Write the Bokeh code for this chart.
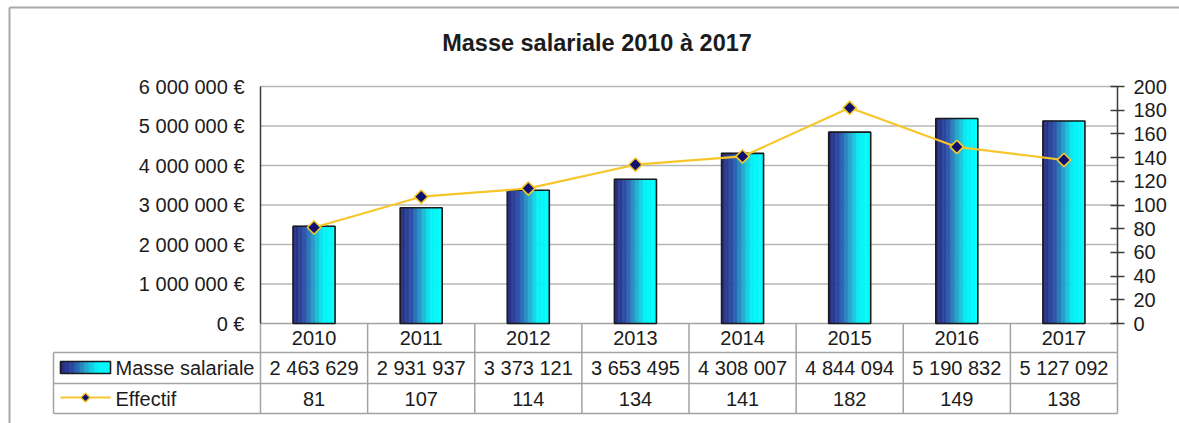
import math
from bokeh.plotting import figure
from bokeh.models import Range1d, LinearAxis, FixedTicker
from bokeh.core.properties import value
from bokeh.embed import file_html
from bokeh.resources import INLINE

# ---------------- data ----------------
years = ["2010", "2011", "2012", "2013", "2014", "2015", "2016", "2017"]
masse_salariale = [2463629, 2931937, 3373121, 3653495, 4308007, 4844094, 5190832, 5127092]
effectif = [81, 107, 114, 134, 141, 182, 149, 138]
money_ticks = [0, 1000000, 2000000, 3000000, 4000000, 5000000, 6000000]
count_ticks = [0, 20, 40, 60, 80, 100, 120, 140, 160, 180, 200]
series_names = ["Masse salariale", "Effectif"]
title_text = "Masse salariale 2010 à 2017"

# ---------------- layout (page pixels) ----------------
W, H = 1179, 423
FL, FR, FT = 260, 1117, 86            # plot area edges on the page
Y0 = 323                               # zero line on the page
ROWS = [323, 352, 383, 413]            # table row borders
TL = 53                                # table left edge
COL_W = (FR - FL) / len(years)
MONEY_MAX = money_ticks[-1]
COUNT_MAX = count_ticks[-1]
PPX = MONEY_MAX / (Y0 - FT)
CPX = COUNT_MAX / (Y0 - FT)

FONT = "Liberation Sans"
TXT = "#1c1c1c"
GRID = "#b7b7b7"
TABLE = "#a3a3a3"
AXIS = "#3a3a3a"
GOLD = "#f7c62a"
NAVY = "#10106e"
FS = "20px"


def X(px):
    return (px - FL) / COL_W


def Y(py):
    return (Y0 - py) * PPX


def fmt_int(v):
    return f"{v:,}".replace(",", " ")


def grad(t):
    stops = [(0.0, (36, 38, 122)), (0.28, (44, 80, 170)), (0.52, (36, 168, 204)),
             (0.72, (4, 240, 246)), (1.0, (0, 255, 255))]
    for (t0, c0), (t1, c1) in zip(stops[:-1], stops[1:]):
        if t <= t1:
            f = (t - t0) / (t1 - t0)
            c = [round(a + (b - a) * f) for a, b in zip(c0, c1)]
            return "#%02x%02x%02x" % tuple(c)
    return "#00ffff"


p = figure(width=W, height=H, output_backend="svg", toolbar_location=None,
           x_range=Range1d(X(0), X(W)), y_range=Range1d(Y(H), Y(0)),
           x_axis_location=None, y_axis_location="left",
           min_border_left=0, min_border_right=0, min_border_top=0, min_border_bottom=0)
p.extra_y_ranges = {"right": Range1d((Y0 - H) * CPX, Y0 * CPX)}
p.outline_line_color = None
p.background_fill_color = "white"
p.border_fill_color = "white"
p.xgrid.visible = False
p.ygrid.visible = False

n = len(years)
centers = [i + 0.5 for i in range(n)]

# left axis (money) placed on the plot area's left edge
ax = p.yaxis[0]
ax.fixed_location = 0
ax.ticker = FixedTicker(ticks=money_ticks)
ax.bounds = (0, MONEY_MAX)
ax.major_label_overrides = {t: fmt_int(t) + " €" for t in money_ticks}
ax.major_tick_in = 0
ax.major_tick_out = 0
ax.minor_tick_line_color = None
ax.axis_line_color = AXIS
ax.axis_line_width = 1.5
ax.major_label_standoff = 16
ax.major_label_text_font = FONT
ax.major_label_text_font_size = FS
ax.major_label_text_color = TXT

# right axis (effectif)
rax = LinearAxis(y_range_name="right", ticker=FixedTicker(ticks=count_ticks), bounds=(0, COUNT_MAX))
rax.fixed_location = n
rax.major_tick_in = 7
rax.major_tick_out = 7
rax.major_tick_line_color = AXIS
rax.major_tick_line_width = 1.5
rax.minor_tick_line_color = None
rax.axis_line_color = AXIS
rax.axis_line_width = 1.5
rax.major_label_standoff = 9
rax.major_label_text_font = FONT
rax.major_label_text_font_size = FS
rax.major_label_text_color = TXT
p.add_layout(rax, "right")

# horizontal grid lines of the money axis
p.segment(x0=0, x1=n, y0=money_ticks[1:], y1=money_ticks[1:], line_color=GRID, line_width=1.5)

# table borders
p.segment(x0=0, x1=n, y0=0, y1=0, line_color=TABLE, line_width=1.5)
p.segment(x0=X(TL), x1=n, y0=[Y(r) for r in ROWS[1:]], y1=[Y(r) for r in ROWS[1:]],
          line_color=TABLE, line_width=1.5)
p.segment(x0=list(range(0, n + 1)), x1=list(range(0, n + 1)), y0=0, y1=Y(ROWS[-1]),
          line_color=TABLE, line_width=1.5)
p.segment(x0=X(TL), x1=X(TL), y0=Y(ROWS[1]), y1=Y(ROWS[-1]), line_color=TABLE, line_width=1.5)

# gradient bars
N = 32
bw = 42 / COL_W
L, R, T, C = [], [], [], []
for c, v in zip(centers, masse_salariale):
    for k in range(N):
        L.append(c - bw / 2 + k * bw / N)
        R.append(c - bw / 2 + (k + 1) * bw / N)
        T.append(v)
        C.append(grad((k + 0.5) / N))
p.quad(left=L, right=R, top=T, bottom=0, fill_color=C, line_color=C, line_width=0.6)
p.vbar(x=centers, width=bw, top=masse_salariale, bottom=0, fill_color=None,
       line_color="#1a1a1a", line_width=1.6)

# effectif line
p.line(x=centers, y=effectif, y_range_name="right", line_color=GOLD, line_width=2.2)
p.scatter(x=centers, y=effectif, y_range_name="right", marker="square", angle=math.pi / 4,
          size=9.5, fill_color=NAVY, line_color=GOLD, line_width=1.6)

# table texts
p.text(x=centers, y=Y(337.5), text=years, text_font=value(FONT), text_font_size=value(FS),
       text_color=TXT, text_align="center", text_baseline="middle")
p.text(x=centers, y=Y(367.5), text=[fmt_int(v) for v in masse_salariale], text_font=value(FONT),
       text_font_size=value(FS), text_color=TXT, text_align="center", text_baseline="middle")
p.text(x=centers, y=Y(398), text=[str(v) for v in effectif], text_font=value(FONT),
       text_font_size=value(FS), text_color=TXT, text_align="center", text_baseline="middle")
p.text(x=X(115), y=[Y(367.5), Y(398)], text=series_names, text_font=value(FONT),
       text_font_size=value(FS), text_color=TXT, text_align="left", text_baseline="middle")

# legend swatches
SW_L, SW_R, SW_T, SW_B = 60, 110, 361, 373
M = 20
sl = [X(SW_L + k * (SW_R - SW_L) / M) for k in range(M)]
sr = [X(SW_L + (k + 1) * (SW_R - SW_L) / M) for k in range(M)]
sc = [grad((k + 0.5) / M) for k in range(M)]
p.quad(left=sl, right=sr, top=Y(SW_T), bottom=Y(SW_B), fill_color=sc, line_color=sc, line_width=0.6)
p.quad(left=X(SW_L), right=X(SW_R), top=Y(SW_T), bottom=Y(SW_B), fill_color=None,
       line_color="#1a1a1a", line_width=1.6)
p.segment(x0=X(60), x1=X(110), y0=Y(397), y1=Y(397), line_color=GOLD, line_width=2.2)
p.scatter(x=X(85), y=Y(397), marker="square", angle=math.pi / 4, size=6.5,
          fill_color=NAVY, line_color=GOLD, line_width=1.4)

# title
p.text(x=X(596.5), y=Y(42), text=[title_text], text_font=value(FONT), text_font_size=value("23.5px"),
       text_font_style="bold", text_color=TXT, text_align="center", text_baseline="middle")

# outer frame
p.segment(x0=X(9), x1=X(9), y0=Y(7), y1=Y(H), line_color="#a8a8a8", line_width=2)
p.segment(x0=X(9), x1=X(W), y0=Y(7), y1=Y(7), line_color="#a8a8a8", line_width=2)

open("out.html", "w").write(file_html(p, INLINE))
